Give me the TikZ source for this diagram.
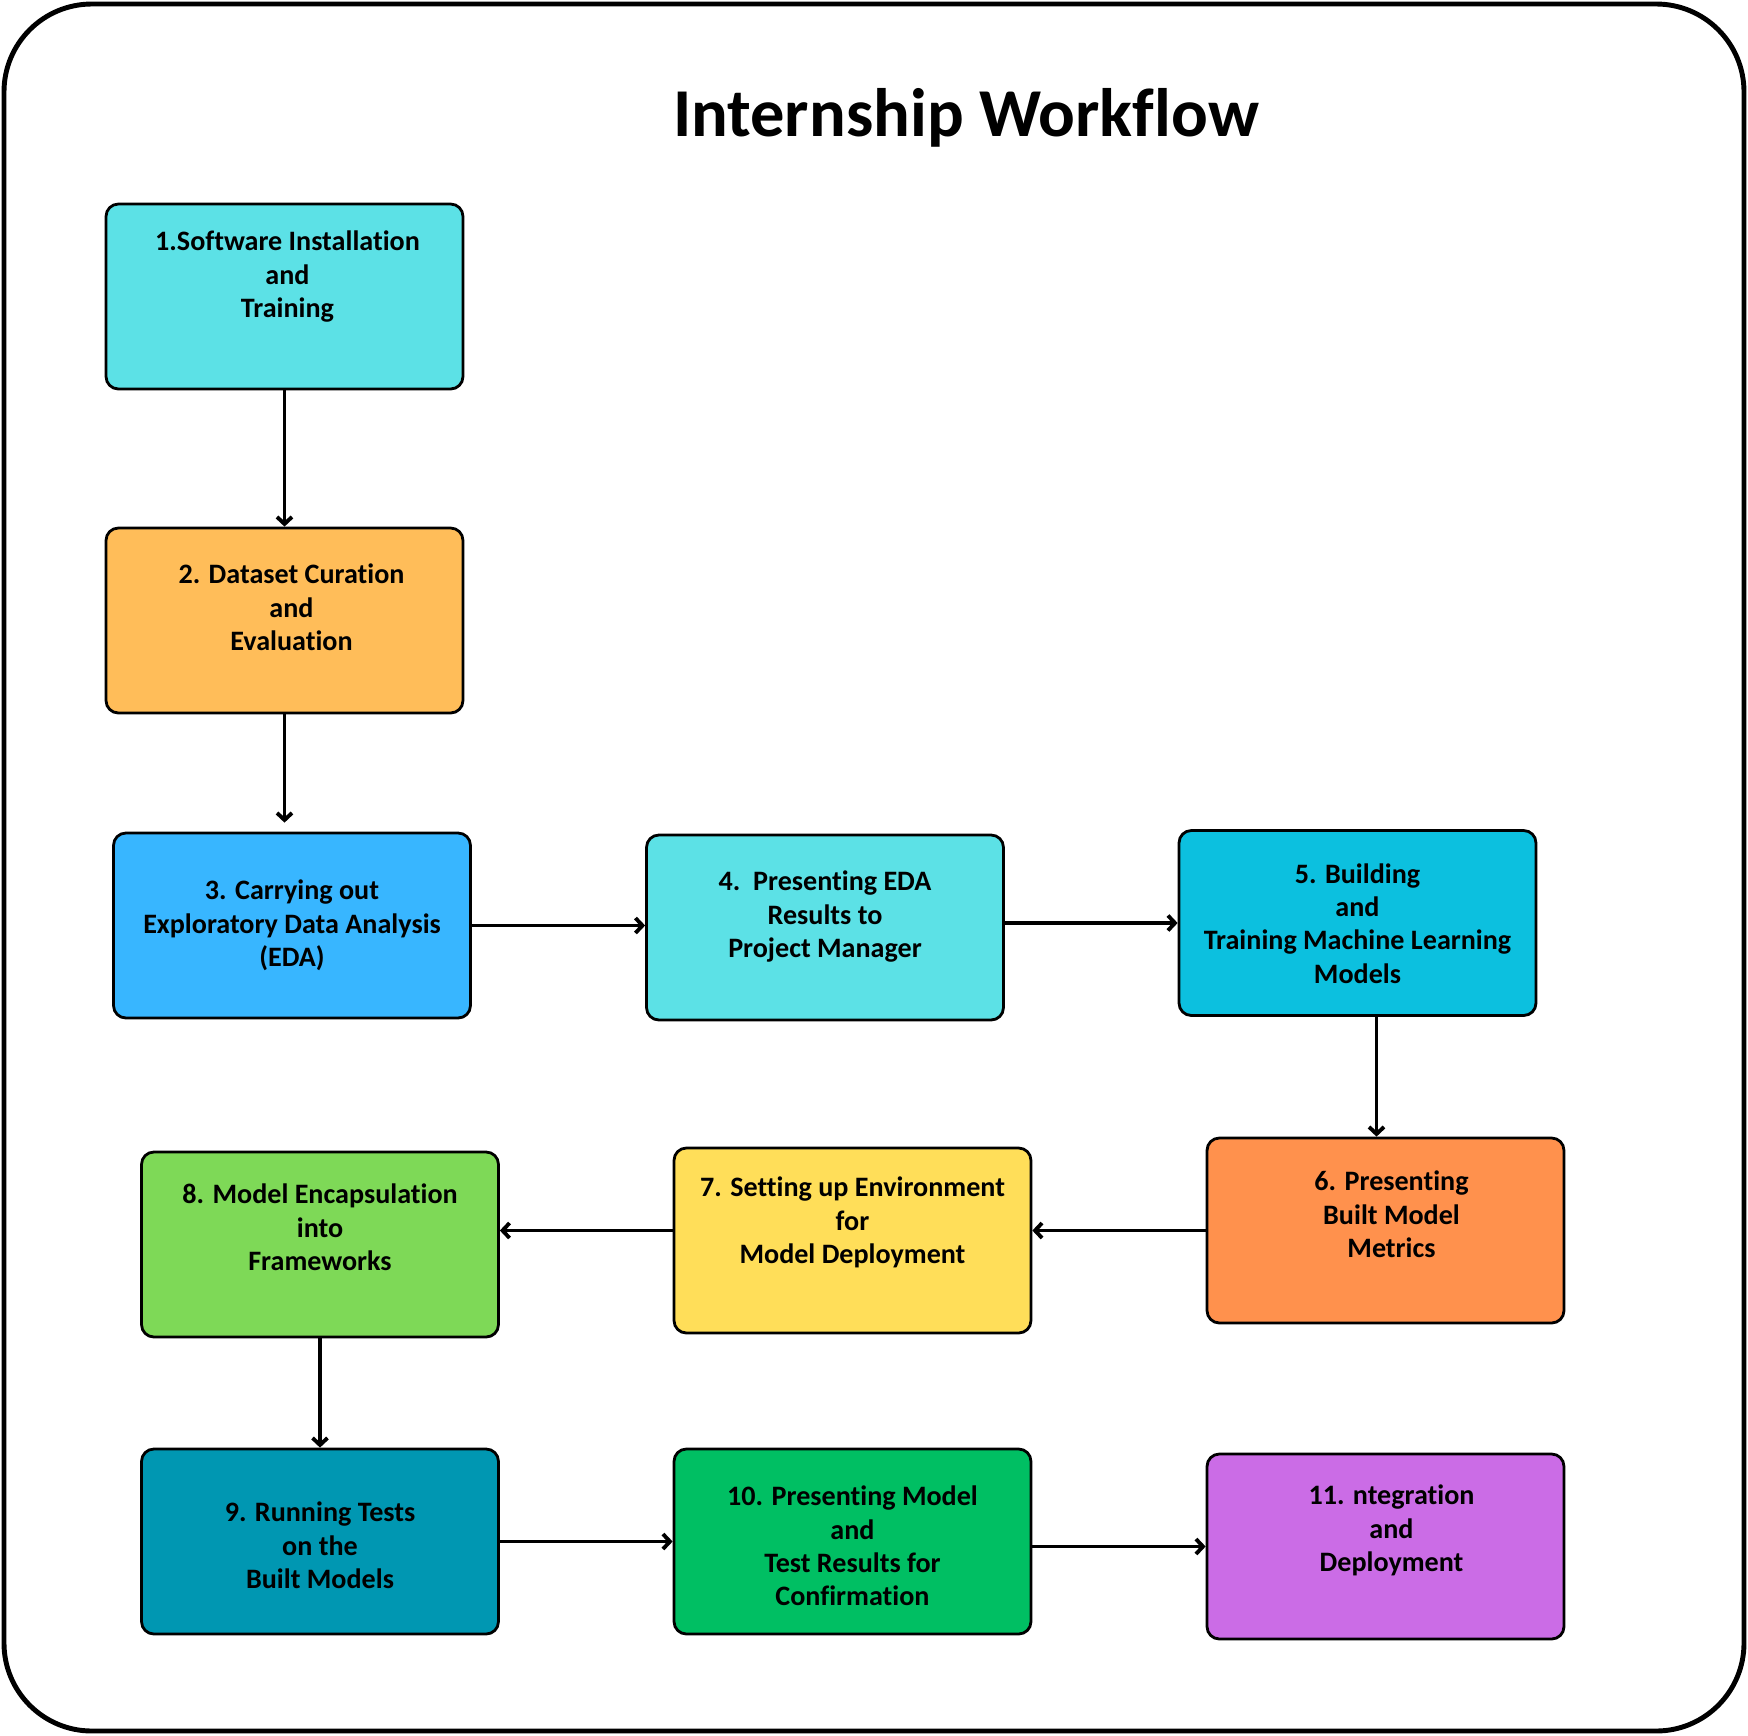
\documentclass[tikz,border=0pt]{standalone}
\usepackage{fontspec}
\setmainfont[Ligatures=NoCommon]{Carlito}
\usetikzlibrary{arrows.meta, calc}
\definecolor{TurqLight}{HTML}{5CE1E6}
\definecolor{Apricot}{HTML}{FFBD59}
\definecolor{SkyBlue}{HTML}{38B6FF}
\definecolor{Cyan}{HTML}{0CC0DF}
\definecolor{Tangerine}{HTML}{FF914D}
\definecolor{Sun}{HTML}{FFDE59}
\definecolor{Lime}{HTML}{7ED957}
\definecolor{Teal}{HTML}{0097B2}
\definecolor{Emerald}{HTML}{00BF63}
\definecolor{Orchid}{HTML}{CB6CE6}

\begin{document}
\begin{tikzpicture}[x=0.02cm, y=-0.02cm, >={Straight Barb[length=4pt, width=8.5pt]},
  box/.style={draw, line width=1.6pt, rounded corners=7pt, minimum width=7.14cm,
    minimum height=3.7cm, inner sep=0pt},
  lbl/.style={anchor=north, align=center, inner sep=0pt,
    font=\bfseries\fontsize{16}{19}\selectfont},
  flow/.style={->, line width=2.2pt}]
  \useasboundingbox (0,0) rectangle (1748,1735);
  % Frame and title
  \draw[line width=2.8pt, rounded corners=50pt] (4,4) rectangle (1744,1731);
  \node[font=\bfseries\fontsize{39}{44}\selectfont] (title) at (966,118) {Internship Workflow};
  % Boxes
  \node[box, fill=TurqLight] (b1) at (284.5,296.5) {};
  \node[box, fill=Apricot] (b2) at (284.5,620.5) {};
  \node[box, fill=SkyBlue] (b3) at (292,925.5) {};
  \node[box, fill=TurqLight] (b4) at (825,927.5) {};
  \node[box, fill=Cyan] (b5) at (1357.5,923) {};
  \node[box, fill=Tangerine] (b6) at (1385.5,1230.5) {};
  \node[box, fill=Sun] (b7) at (852.5,1240.5) {};
  \node[box, fill=Lime] (b8) at (320,1244.5) {};
  \node[box, fill=Teal] (b9) at (320,1541.5) {};
  \node[box, fill=Emerald] (b10) at (852.5,1541.5) {};
  \node[box, fill=Orchid] (b11) at (1385.5,1546.5) {};
  % Box texts
  \node[lbl] (t1) at ($(b1.north)+(3,28)$) {1.Software Installation\\and\\Training};
  \node[lbl] (t2) at ($(b2.north)+(7,37)$) {2. Dataset Curation\\and\\Evaluation};
  \node[lbl] (t3) at ($(b3.north)+(0,48)$) {3. Carrying out\\Exploratory Data Analysis\\(EDA)};
  \node[lbl] (t4) at ($(b4.north)+(0,37)$) {4.\ \ Presenting EDA\\Results to\\Project Manager};
  \node[lbl] (t5) at ($(b5.north)+(0,34)$) {5. Building\\and\\Training Machine Learning\\Models};
  \node[lbl] (t6) at ($(b6.north)+(6,34)$) {6. Presenting\\Built Model\\Metrics};
  \node[lbl] (t7) at ($(b7.north)+(0,30)$) {7. Setting up Environment\\for\\Model Deployment};
  \node[lbl] (t8) at ($(b8.north)+(0,33)$) {8. Model Encapsulation\\into\\Frameworks};
  \node[lbl] (t9) at ($(b9.north)+(0,54)$) {9. Running Tests\\on the\\Built Models};
  \node[lbl] (t10) at ($(b10.north)+(0,38)$) {10. Presenting Model\\and\\Test Results for\\Confirmation};
  \node[lbl] (t11) at ($(b11.north)+(6,32)$) {11. ntegration\\and\\Deployment};
  % Arrows
  \coordinate (c56) at ($(b5.south)+(19,0)$);
  \coordinate (c78) at ($(b7.west)+(0,-10)$);
  \draw[flow] (b1.south) -- (b2.north);
  \draw[flow, shorten >=0.18cm] (b2.south) -- (b2.south |- b3.north);
  \draw[flow] (b3.east) -- (b3.east -| b4.west);
  \draw[flow] (b5.west -| b4.east) -- (b5.west);
  \draw[flow] (c56) -- (c56 |- b6.north);
  \draw[flow] (b6.west) -- (b6.west -| b7.east);
  \draw[flow] (c78) -- (c78 -| b8.east);
  \draw[flow] (b8.south) -- (b9.north);
  \draw[flow] (b9.east) -- (b9.east -| b10.west);
  \draw[flow] (b11.west -| b10.east) -- (b11.west);
\end{tikzpicture}
\end{document}
